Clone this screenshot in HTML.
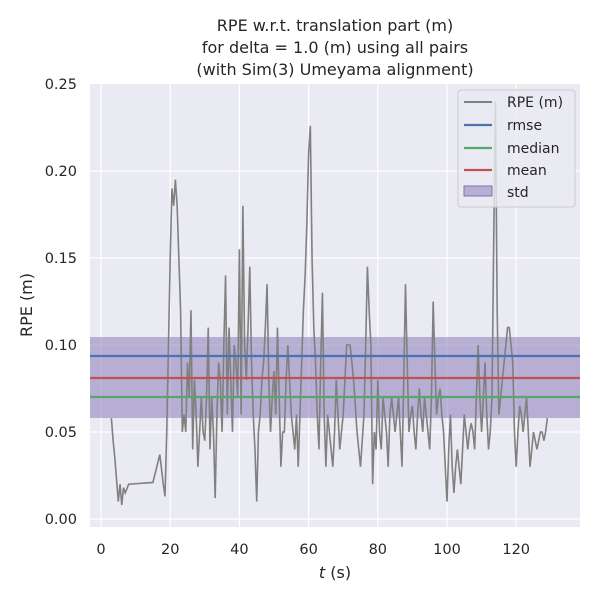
<!DOCTYPE html>
<html><head><meta charset="utf-8"><style>
body{margin:0;background:#fff;}
svg{display:block;font-family:"DejaVu Sans","Liberation Sans",sans-serif;}
</style></head><body>
<svg width="600" height="600" xmlns="http://www.w3.org/2000/svg">
<rect x="90" y="84" width="490" height="443" fill="#eaeaf2"/>
<g stroke="#fff" stroke-width="1.2">
<line x1="101" x2="101" y1="84" y2="527"/><line x1="170.2" x2="170.2" y1="84" y2="527"/>
<line x1="239.4" x2="239.4" y1="84" y2="527"/><line x1="308.6" x2="308.6" y1="84" y2="527"/>
<line x1="377.8" x2="377.8" y1="84" y2="527"/><line x1="447" x2="447" y1="84" y2="527"/>
<line x1="516.2" x2="516.2" y1="84" y2="527"/>
<line x1="90" x2="580" y1="519" y2="519"/><line x1="90" x2="580" y1="432" y2="432"/>
<line x1="90" x2="580" y1="345" y2="345"/><line x1="90" x2="580" y1="258" y2="258"/>
<line x1="90" x2="580" y1="171" y2="171"/>
</g>
<rect x="90" y="337" width="490" height="81" fill="#8172b3" fill-opacity="0.5"/>
<path transform="translate(101,519) scale(3.46,-1740)" vector-effect="non-scaling-stroke" fill="none" stroke="#808080" stroke-width="1.6" d="M3 0.058L3.5 0.045L4 0.035L5 0.01L5.5 0.02L6 0.008L6.5 0.018L7 0.015L8 0.02L15 0.021L17 0.037L18 0.02L18.5 0.013L19 0.05L20 0.15L20.5 0.19L21 0.18L21.5 0.195L22 0.18L23 0.12L23.5 0.05L24 0.06L24.5 0.05L25 0.09L25.5 0.07L26 0.12L26.5 0.04L27 0.08L27.5 0.06L28 0.03L28.5 0.05L29 0.07L29.5 0.05L30 0.045L30.5 0.07L31 0.11L31.5 0.04L32 0.07L32.5 0.05L33 0.012L33.5 0.06L34 0.09L34.5 0.08L35 0.05L35.5 0.1L36 0.14L36.5 0.06L37 0.11L37.5 0.08L38 0.05L38.5 0.1L39 0.09L39.5 0.07L40 0.155L40.5 0.06L41 0.18L41.5 0.1L42 0.08L42.5 0.11L43 0.145L43.5 0.09L44 0.06L44.5 0.04L45 0.01L45.5 0.05L46 0.06L46.5 0.08L47 0.09L47.5 0.11L48 0.135L48.5 0.08L49 0.05L49.5 0.07L50 0.085L50.5 0.06L51 0.11L51.5 0.07L52 0.03L52.5 0.05L53 0.05L53.5 0.08L54 0.1L54.5 0.08L55 0.06L55.5 0.05L56 0.04L56.5 0.06L57 0.03L57.5 0.06L58 0.09L58.5 0.12L59 0.14L59.5 0.17L60 0.21L60.5 0.226L61 0.15L61.5 0.11L62 0.09L62.5 0.06L63 0.04L63.5 0.09L64 0.13L64.5 0.06L65 0.03L65.5 0.06L66 0.05L66.5 0.04L67 0.03L67.5 0.05L68 0.08L68.5 0.06L69 0.04L69.5 0.05L70 0.06L70.5 0.08L71 0.1L72 0.1L73 0.08L74 0.05L75 0.03L76 0.06L76.5 0.1L77 0.145L77.5 0.12L78 0.1L78.5 0.02L79 0.05L79.5 0.04L80 0.08L80.5 0.05L81 0.04L81.5 0.07L82 0.06L82.5 0.05L83 0.03L83.5 0.06L84 0.07L84.5 0.06L85 0.05L85.5 0.06L86 0.07L86.5 0.05L87 0.03L87.5 0.08L88 0.135L88.5 0.09L89 0.05L89.5 0.06L90 0.065L90.5 0.05L91 0.04L91.5 0.06L92 0.075L92.5 0.06L93 0.05L93.5 0.07L94 0.06L94.5 0.05L95 0.04L95.5 0.07L96 0.125L96.5 0.09L97 0.06L97.5 0.07L98 0.075L98.5 0.06L99 0.05L99.5 0.03L100 0.01L100.5 0.04L101 0.06L101.5 0.03L102 0.015L102.5 0.03L103 0.04L103.5 0.03L104 0.02L104.5 0.04L105 0.06L105.5 0.05L106 0.04L106.5 0.05L107 0.055L107.5 0.05L108 0.04L108.5 0.07L109 0.1L109.5 0.07L110 0.05L110.5 0.07L111 0.09L111.5 0.06L112 0.04L112.5 0.05L113 0.07L113.5 0.16L114 0.24L114.5 0.12L115 0.06L115.5 0.07L116 0.08L116.5 0.09L117 0.1L117.5 0.11L118 0.11L118.5 0.1L119 0.09L119.5 0.05L120 0.03L120.5 0.05L121 0.065L121.5 0.06L122 0.05L122.5 0.06L123 0.07L123.5 0.05L124 0.03L124.5 0.04L125 0.05L125.5 0.045L126 0.04L126.5 0.045L127 0.05L127.5 0.05L128 0.045L128.5 0.05L129 0.058"/>
<line x1="90" x2="580" y1="356" y2="356" stroke="#4c72b0" stroke-width="2.2"/>
<line x1="90" x2="580" y1="397" y2="397" stroke="#55a868" stroke-width="2.2"/>
<line x1="90" x2="580" y1="378" y2="378" stroke="#c44e52" stroke-width="2.2"/>
<g fill="#262626" font-size="16" text-anchor="middle">
<text x="335" y="31">RPE w.r.t. translation part (m)</text>
<text x="335" y="53">for delta = 1.0 (m) using all pairs</text>
<text x="335" y="75">(with Sim(3) Umeyama alignment)</text>
<text x="335" y="578"><tspan font-style="italic">t</tspan> (s)</text>
<text transform="translate(32,305) rotate(-90)">RPE (m)</text>
</g>
<g fill="#262626" font-size="14.5" text-anchor="middle">
<text x="101" y="554">0</text><text x="170.2" y="554">20</text><text x="239.4" y="554">40</text>
<text x="308.6" y="554">60</text><text x="377.8" y="554">80</text><text x="447" y="554">100</text>
<text x="516.2" y="554">120</text>
</g>
<g fill="#262626" font-size="14.5" text-anchor="end">
<text x="77" y="524">0.00</text><text x="77" y="437">0.05</text><text x="77" y="350">0.10</text>
<text x="77" y="263">0.15</text><text x="77" y="176">0.20</text><text x="77" y="89">0.25</text>
</g>
<g>
<rect x="458" y="90" width="117" height="117" rx="3" fill="#eaeaf2" fill-opacity="0.8" stroke="#ccc"/>
<line x1="464" x2="492" y1="102" y2="102" stroke="#808080" stroke-width="2"/>
<line x1="464" x2="492" y1="125" y2="125" stroke="#4c72b0" stroke-width="2.2"/>
<line x1="464" x2="492" y1="148" y2="148" stroke="#55a868" stroke-width="2.2"/>
<line x1="464" x2="492" y1="170" y2="170" stroke="#c44e52" stroke-width="2.2"/>
<rect x="464" y="186" width="28" height="10" fill="#8172b3" fill-opacity="0.5" stroke="#8172b3"/>
<g fill="#262626" font-size="14">
<text x="507" y="107">RPE (m)</text><text x="507" y="130">rmse</text>
<text x="507" y="153">median</text><text x="507" y="175">mean</text><text x="507" y="197">std</text>
</g></g>
</svg>
</body></html>
